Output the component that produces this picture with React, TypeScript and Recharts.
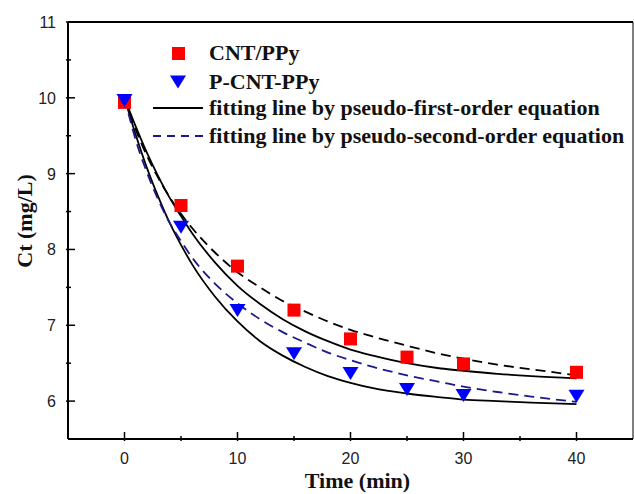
import {
  ComposedChart,
  Line,
  ReferenceLine,
  Scatter,
  XAxis,
  YAxis,
} from "recharts";

// measured points (Ct, mg/L)
const sampleTime = [0, 5, 10, 15, 20, 25, 30, 40];
const cntPpy = [9.94, 8.58, 7.78, 7.2, 6.82, 6.58, 6.49, 6.38];
const pCntPpy = [9.97, 8.3, 7.2, 6.63, 6.37, 6.16, 6.08, 6.07];

// fitted curves
const fitTime = [0, 1, 2, 3, 4, 5, 6, 8, 10, 12, 14, 16, 18, 20, 22, 25, 28, 30, 33, 36, 40];
const cntFirst = [10, 9.62, 9.27, 8.96, 8.68, 8.44, 8.21, 7.83, 7.52, 7.28, 7.08, 6.92, 6.79, 6.68, 6.6, 6.5, 6.43, 6.4, 6.36, 6.33, 6.3];
const cntSecond = [10, 9.58, 9.23, 8.94, 8.69, 8.47, 8.28, 7.96, 7.7, 7.5, 7.32, 7.18, 7.05, 6.94, 6.85, 6.73, 6.62, 6.56, 6.48, 6.42, 6.34];
const pCntFirst = [10, 9.51, 9.07, 8.69, 8.35, 8.06, 7.8, 7.38, 7.05, 6.79, 6.6, 6.45, 6.33, 6.24, 6.17, 6.1, 6.05, 6.02, 6.0, 5.98, 5.96];
const pCntSecond = [10, 9.44, 9.01, 8.65, 8.35, 8.11, 7.89, 7.55, 7.29, 7.08, 6.91, 6.77, 6.64, 6.54, 6.45, 6.34, 6.25, 6.19, 6.12, 6.06, 5.99];

const xTicks = [0, 5, 10, 15, 20, 25, 30, 35, 40];
const yTicks = [6, 6.5, 7, 7.5, 8, 8.5, 9, 9.5, 10, 10.5, 11];

const toPoints = (xs: number[], ys: number[]) => xs.map((t, i) => ({ t, c: ys[i] }));

const SERIF = "'Liberation Serif', 'Times New Roman', serif";
const SANS = "'Liberation Sans', Arial, sans-serif";

const XTick = ({ x, y, payload }: any) => {
  const major = payload.value % 10 === 0;
  return (
    <g>
      <line x1={x} x2={x} y1={y} y2={y - (major ? 9 : 5)} stroke="#000" strokeWidth={1.5} />
      {major && (
        <text x={x} y={y + 23} textAnchor="middle" fontFamily={SANS} fontSize={16} fill="#222">
          {payload.value}
        </text>
      )}
    </g>
  );
};

const YTick = ({ x, y, payload }: any) => {
  const major = Number.isInteger(payload.value);
  return (
    <g>
      <line x1={x} x2={x + (major ? 9 : 5)} y1={y} y2={y} stroke="#000" strokeWidth={1.5} />
      {major && (
        <text x={x - 10} y={y + 6} textAnchor="end" fontFamily={SANS} fontSize={16} fill="#222">
          {payload.value}
        </text>
      )}
    </g>
  );
};

const Square = ({ cx, cy }: any) => (
  <rect x={cx - 6.5} y={cy - 6.5} width={13} height={13} fill="#ff0000" />
);

const TriDown = ({ cx, cy }: any) => (
  <path d={`M${cx - 8},${cy - 6} L${cx + 8},${cy - 6} L${cx},${cy + 7} Z`} fill="#0000ff" />
);

const labelStyle = { fontFamily: SERIF, fontWeight: 700, fontSize: 22, fill: "#111" } as const;

const YLabel = () => (
  <text transform="translate(32,221) rotate(-90)" textAnchor="middle" {...labelStyle}>
    Ct (mg/L)
  </text>
);

function LegendBox() {
  return (
    <svg width={634} height={494} style={{ position: "absolute", left: 0, top: 0, pointerEvents: "none" }}>
      <rect x={172} y={47} width={13} height={13} fill="#ff0000" />
      <text x={209} y={60} {...labelStyle}>CNT/PPy</text>
      <path d="M170,75.5 L186,75.5 L178,88.5 Z" fill="#0000ff" />
      <text x={209} y={89} {...labelStyle}>P-CNT-PPy</text>
      <line x1={153} x2={203} y1={108} y2={108} stroke="#000" strokeWidth={1.8} />
      <text x={209} y={115} {...labelStyle}>fitting line by pseudo-first-order equation</text>
      <line x1={153} x2={203} y1={136} y2={136} stroke="#1a1a8c" strokeWidth={1.8} strokeDasharray="8 6" />
      <text x={209} y={143} {...labelStyle}>fitting line by pseudo-second-order equation</text>
    </svg>
  );
}

export default function App() {
  return (
    <div style={{ position: "absolute", left: 0, top: 0, width: 634, height: 494, background: "#fff" }}>
      <ComposedChart width={634} height={494} margin={{ top: 22, right: 1, bottom: 0, left: 0 }}>
        <XAxis
          dataKey="t"
          type="number"
          domain={[-5, 45]}
          ticks={xTicks}
          allowDataOverflow
          height={55}
          tickSize={0}
          tickLine={false}
          axisLine={{ stroke: "#000", strokeWidth: 2 }}
          tick={<XTick />}
          label={{
            value: "Time (min)",
            position: "insideBottom",
            offset: 6,
            dx: 7,
            style: labelStyle,
          }}
        />
        <YAxis
          dataKey="c"
          type="number"
          domain={[5.5, 11]}
          ticks={yTicks}
          allowDataOverflow
          width={68}
          tickSize={0}
          tickLine={false}
          axisLine={{ stroke: "#000", strokeWidth: 2 }}
          tick={<YTick />}
          label={{ content: <YLabel /> }}
        />
        <ReferenceLine y={11} stroke="#000" strokeWidth={2} />
        <ReferenceLine x={45} stroke="#000" strokeWidth={1} />
        <Scatter data={toPoints(sampleTime, cntPpy)} dataKey="c" shape={<Square />} isAnimationActive={false} />
        <Scatter data={toPoints(sampleTime, pCntPpy)} dataKey="c" shape={<TriDown />} isAnimationActive={false} />
        <Line data={toPoints(fitTime, cntFirst)} dataKey="c" type="monotone" stroke="#000" strokeWidth={1.8} dot={false} isAnimationActive={false} />
        <Line data={toPoints(fitTime, cntSecond)} dataKey="c" type="monotone" stroke="#000" strokeWidth={1.8} strokeDasharray="10 6" dot={false} isAnimationActive={false} />
        <Line data={toPoints(fitTime, pCntFirst)} dataKey="c" type="monotone" stroke="#000" strokeWidth={1.8} dot={false} isAnimationActive={false} />
        <Line data={toPoints(fitTime, pCntSecond)} dataKey="c" type="monotone" stroke="#1a1a8c" strokeWidth={1.8} strokeDasharray="10 6" dot={false} isAnimationActive={false} />
      </ComposedChart>
      <LegendBox />
    </div>
  );
}
